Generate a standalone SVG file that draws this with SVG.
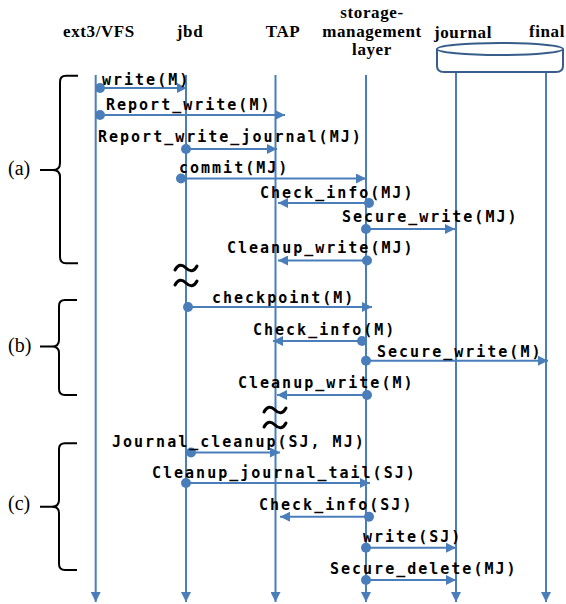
<svg xmlns="http://www.w3.org/2000/svg" width="566" height="604" viewBox="0 0 566 604">
<defs>
<marker id="ah" viewBox="0 0 10 10" refX="10" refY="5" markerWidth="10" markerHeight="10" markerUnits="userSpaceOnUse" orient="auto">
<path d="M0,0 L10,5 L0,10 Z" fill="#4a7ebb"/>
</marker>
<style>
.hdr{font-family:"Liberation Serif","Times New Roman",serif;font-weight:bold;font-size:17px;letter-spacing:0.6px;text-anchor:middle;fill:#000}
.lbl{font-family:"Liberation Serif","Times New Roman",serif;font-size:20px;fill:#000}
.msg{font-family:"DejaVu Sans Mono","Liberation Mono",monospace;font-weight:bold;font-size:15px;letter-spacing:2px;fill:#000}
.life{stroke:#4a7ebb;stroke-width:2;fill:none;marker-end:url(#ah)}
.arr{stroke:#4a7ebb;stroke-width:2;fill:none;marker-end:url(#ah)}
.dot{fill:#4a7ebb}
.br{stroke:#000;stroke-width:2;fill:none}
.tl{stroke:#000;stroke-width:3;fill:none;stroke-linecap:round}
</style>
</defs>
<rect width="566" height="604" fill="#fff"/>

<g id="ext3">
<text class="hdr" x="99" y="37">ext3/VFS</text>
<line class="life" x1="95.7" y1="75" x2="95.7" y2="602"/>
</g>
<g id="jbd">
<text class="hdr" x="190" y="37">jbd</text>
<line class="life" x1="186" y1="75" x2="186" y2="602"/>
</g>
<g id="tap">
<text class="hdr" x="283" y="37">TAP</text>
<line class="life" x1="275.5" y1="75" x2="275.5" y2="602"/>
</g>
<g id="storage">
<text class="hdr" x="372" y="18">storage-</text>
<text class="hdr" x="372" y="37">management</text>
<text class="hdr" x="372" y="55">layer</text>
<line class="life" x1="366" y1="75" x2="366" y2="602"/>
</g>
<g id="journal">
<text class="hdr" x="463" y="38">journal</text>
<line class="life" x1="456" y1="73" x2="456" y2="602"/>
</g>
<g id="final">
<text class="hdr" x="547" y="37">final</text>
<line class="life" x1="546" y1="73" x2="546" y2="602"/>
</g>
<g id="disk">
<path d="M437,49 V66 Q437,72 444,72 H556 Q563,72 563,66 V49" fill="#fff" stroke="#385d8a" stroke-width="2"/>
<ellipse cx="500" cy="49" rx="63" ry="6" fill="#fff" stroke="#385d8a" stroke-width="2"/>
</g>

<g id="brackets">
<path class="br" d="M78,75.7 H66 Q60,75.7 60,82 V163 Q60,170 53,170 H40 M53,170 Q60,170 60,177 V257 Q60,263.3 66,263.3 H78"/>
<text class="lbl" x="8" y="175">(a)</text>
<path class="br" d="M77,300 H65 Q59,300 59,306 V340 Q59,346.5 52,346.5 H40 M52,346.5 Q59,346.5 59,353 V389 Q59,395 65,395 H77"/>
<text class="lbl" x="8" y="352">(b)</text>
<path class="br" d="M77,443.3 H65 Q59,443.3 59,449 V500 Q59,506.7 52,506.7 H40 M52,506.7 Q59,506.7 59,513 V564 Q59,570 65,570 H77"/>
<text class="lbl" x="8" y="510">(c)</text>
</g>

<g id="breaks">
<path class="tl" d="M175,270 c3,-6 7,-6 11,-2 s8,4 11,-2"/>
<path class="tl" d="M175,285 c3,-6 7,-6 11,-2 s8,4 11,-2"/>
<path class="tl" d="M264,412 c3,-6 7,-6 11,-2 s8,4 11,-2"/>
<path class="tl" d="M264,427 c3,-6 7,-6 11,-2 s8,4 11,-2"/>
</g>

<g id="connectors">
<circle class="dot" cx="100" cy="88" r="5"/>
<line class="arr" x1="100" y1="88" x2="187" y2="88"/>
<text class="msg" x="102" y="85">write(M)</text>

<circle class="dot" cx="100" cy="115" r="5"/>
<line class="arr" x1="100" y1="115" x2="285" y2="115"/>
<text class="msg" x="106" y="110">Report_write(M)</text>

<circle class="dot" cx="186" cy="149" r="5"/>
<line class="arr" x1="186" y1="149" x2="277" y2="149"/>
<text class="msg" x="98" y="142">Report_write_journal(MJ)</text>

<circle class="dot" cx="181" cy="178.5" r="5"/>
<line class="arr" x1="181" y1="178.5" x2="366" y2="178.5"/>
<text class="msg" x="179" y="173">commit(MJ)</text>

<circle class="dot" cx="369" cy="203" r="5"/>
<line class="arr" x1="369" y1="203" x2="278" y2="203"/>
<text class="msg" x="260" y="198">Check_info(MJ)</text>

<circle class="dot" cx="366" cy="229" r="5"/>
<line class="arr" x1="366" y1="229" x2="455" y2="229"/>
<text class="msg" x="342" y="222">Secure_write(MJ)</text>

<circle class="dot" cx="367" cy="260.5" r="5"/>
<line class="arr" x1="367" y1="260.5" x2="278" y2="260.5"/>
<text class="msg" x="227" y="253">Cleanup_write(MJ)</text>

<circle class="dot" cx="188" cy="307" r="5"/>
<line class="arr" x1="188" y1="307" x2="372" y2="307"/>
<text class="msg" x="212" y="303">checkpoint(M)</text>

<circle class="dot" cx="362" cy="341" r="5"/>
<line class="arr" x1="362" y1="341" x2="273" y2="341"/>
<text class="msg" x="253" y="335">Check_info(M)</text>

<circle class="dot" cx="366" cy="360.7" r="5"/>
<line class="arr" x1="366" y1="360.7" x2="548" y2="360.7"/>
<text class="msg" x="377" y="357">Secure_write(M)</text>

<circle class="dot" cx="367" cy="395" r="5"/>
<line class="arr" x1="367" y1="395" x2="277" y2="395"/>
<text class="msg" x="238" y="388">Cleanup_write(M)</text>

<circle class="dot" cx="191" cy="452.5" r="5"/>
<line class="arr" x1="191" y1="452.5" x2="280" y2="452.5"/>
<text class="msg" x="112" y="447">Journal_cleanup(SJ, MJ)</text>

<circle class="dot" cx="186" cy="483" r="5"/>
<line class="arr" x1="186" y1="483" x2="370" y2="483"/>
<text class="msg" x="152" y="478">Cleanup_journal_tail(SJ)</text>

<circle class="dot" cx="369" cy="516.7" r="5"/>
<line class="arr" x1="369" y1="516.7" x2="280" y2="516.7"/>
<text class="msg" x="259" y="510">Check_info(SJ)</text>

<circle class="dot" cx="366" cy="547.7" r="5"/>
<line class="arr" x1="366" y1="547.7" x2="456" y2="547.7"/>
<text class="msg" x="363" y="542">write(SJ)</text>

<circle class="dot" cx="366" cy="580" r="5"/>
<line class="arr" x1="366" y1="580" x2="456" y2="580"/>
<text class="msg" x="330" y="574">Secure_delete(MJ)</text>
</g>
</svg>
